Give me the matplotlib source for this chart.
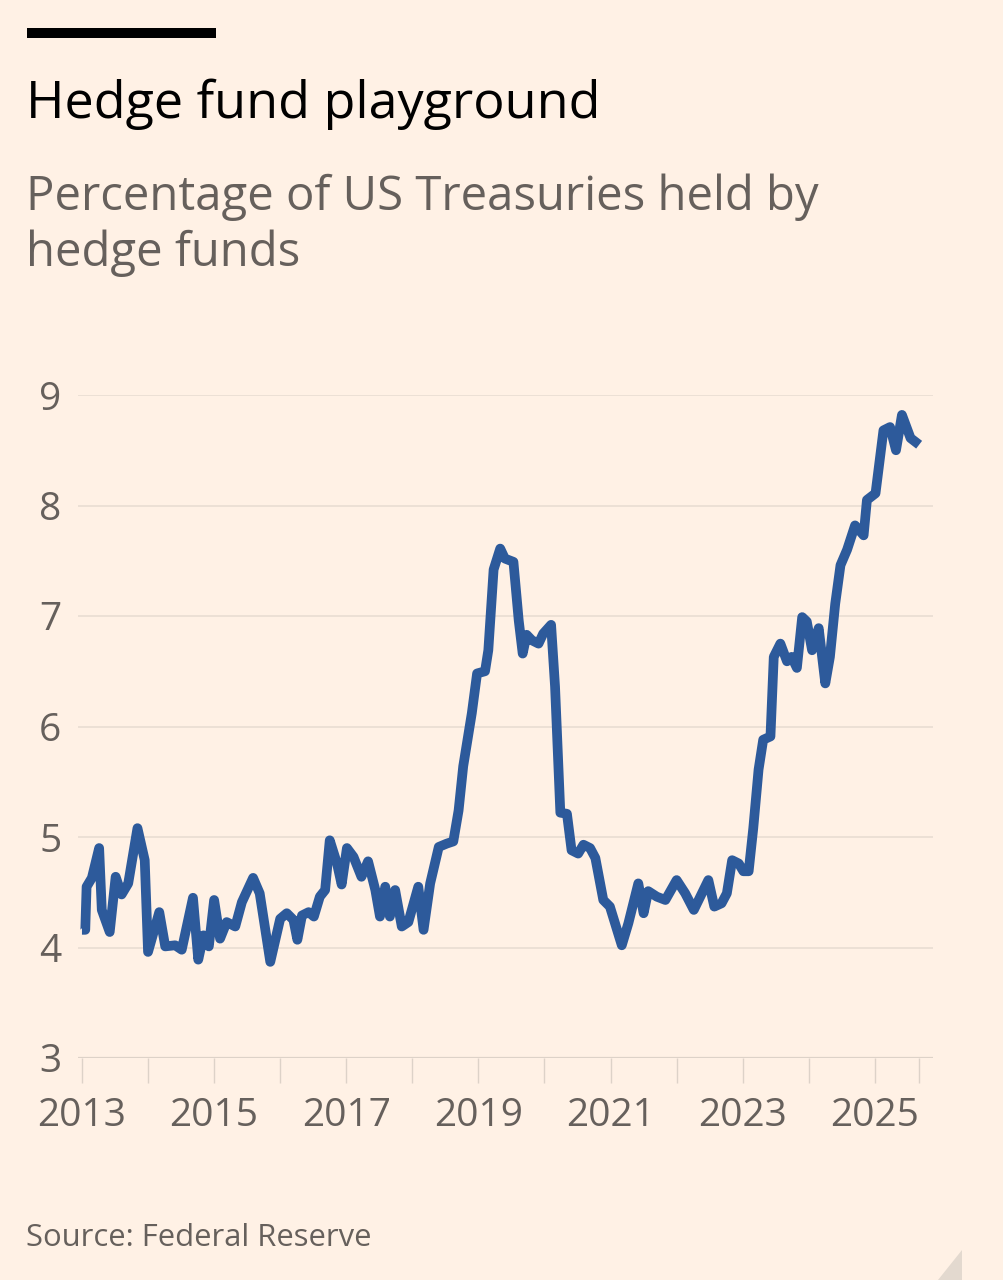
import numpy as np
import matplotlib
matplotlib.use("Agg")
import matplotlib.pyplot as plt
from matplotlib.patches import Rectangle, Polygon

# decimal year, % of US Treasuries held by hedge funds
dates = [2013.00, 2013.05, 2013.07, 2013.15, 2013.26, 2013.30, 2013.42, 2013.51,
         2013.60, 2013.70, 2013.84, 2013.95, 2014.00, 2014.17, 2014.26, 2014.41,
         2014.51, 2014.68, 2014.76, 2014.84, 2014.92, 2015.00, 2015.09, 2015.19,
         2015.32, 2015.42, 2015.59, 2015.69, 2015.85, 2016.00, 2016.10, 2016.20,
         2016.26, 2016.33, 2016.43, 2016.51, 2016.60, 2016.68, 2016.75, 2016.86,
         2016.93, 2017.01, 2017.11, 2017.23, 2017.33, 2017.44, 2017.51, 2017.59,
         2017.66, 2017.74, 2017.84, 2017.94, 2018.09, 2018.17, 2018.27, 2018.40,
         2018.52, 2018.62, 2018.70, 2018.77, 2018.90, 2018.98, 2019.10, 2019.15,
         2019.23, 2019.33, 2019.40, 2019.53, 2019.61, 2019.67, 2019.73, 2019.81,
         2019.91, 2019.98, 2020.10, 2020.16, 2020.24, 2020.34, 2020.41, 2020.51,
         2020.59, 2020.69, 2020.77, 2020.89, 2020.99, 2021.17, 2021.27, 2021.42,
         2021.50, 2021.57, 2021.70, 2021.83, 2022.00, 2022.13, 2022.26, 2022.48,
         2022.57, 2022.68, 2022.76, 2022.84, 2022.94, 2023.01, 2023.09, 2023.16,
         2023.24, 2023.31, 2023.42, 2023.47, 2023.57, 2023.67, 2023.74, 2023.82,
         2023.90, 2023.97, 2024.05, 2024.15, 2024.25, 2024.32, 2024.40, 2024.48,
         2024.58, 2024.70, 2024.83, 2024.88, 2025.01, 2025.13, 2025.23, 2025.32,
         2025.41, 2025.54, 2025.67]
pct = [4.16, 4.16, 4.55, 4.63, 4.90, 4.34, 4.14, 4.64,
       4.48, 4.58, 5.08, 4.79, 3.96, 4.32, 4.01, 4.02,
       3.98, 4.45, 3.89, 4.11, 4.01, 4.43, 4.08, 4.23,
       4.19, 4.41, 4.63, 4.49, 3.87, 4.26, 4.31, 4.25,
       4.07, 4.29, 4.32, 4.28, 4.46, 4.52, 4.97, 4.76,
       4.57, 4.90, 4.82, 4.64, 4.78, 4.52, 4.28, 4.55,
       4.28, 4.52, 4.19, 4.23, 4.55, 4.16, 4.58, 4.91,
       4.94, 4.96, 5.24, 5.64, 6.12, 6.48, 6.50, 6.69,
       7.42, 7.61, 7.52, 7.49, 6.96, 6.66, 6.83, 6.78,
       6.75, 6.84, 6.92, 6.36, 5.22, 5.21, 4.88, 4.85,
       4.93, 4.90, 4.81, 4.43, 4.37, 4.02, 4.22, 4.58,
       4.31, 4.51, 4.46, 4.43, 4.61, 4.49, 4.34, 4.61,
       4.37, 4.40, 4.49, 4.79, 4.76, 4.69, 4.69, 5.08,
       5.61, 5.88, 5.91, 6.63, 6.75, 6.59, 6.63, 6.53,
       6.99, 6.95, 6.69, 6.89, 6.39, 6.63, 7.11, 7.46,
       7.60, 7.82, 7.73, 8.05, 8.11, 8.68, 8.71, 8.50,
       8.82, 8.61, 8.55]

yticks = [3, 4, 5, 6, 7, 8, 9]
label_years = [2013, 2015, 2017, 2019, 2021, 2023, 2025]

BG = "#FFF1E5"
GREY = "#66605C"
GRID = "#E9DDD2"
BLUE = "#2D5A9B"
FONT = ["Open Sans", "DejaVu Sans"]

plt.rcParams["font.family"] = FONT

W, H = 1004, 1280
fig = plt.figure(figsize=(W / 100, H / 100), dpi=100, facecolor=BG)

def px(x, y):
    return x / W, 1 - y / H

# black bar + titles
fig.patches.append(Rectangle(px(27, 38), 189 / W, 10 / H, transform=fig.transFigure,
                             color="black", lw=0))
fig.text(*px(26, 118), "Hedge fund playground", fontsize=37.5, color="black",
         va="baseline", ha="left")
fig.text(*px(26, 210), "Percentage of US Treasuries held by", fontsize=34,
         color=GREY, va="baseline", ha="left")
fig.text(*px(26, 266), "hedge funds", fontsize=34, color=GREY, va="baseline", ha="left")
fig.text(*px(26, 1246), "Source: Federal Reserve", fontsize=22.3, color=GREY,
         va="baseline", ha="left")

# page-curl corner
fig.patches.append(Polygon([px(938, 1280), px(962, 1250), px(962, 1280)],
                           closed=True, transform=fig.transFigure,
                           color="#E3D9CF", lw=0))

l, r = 78, 933
top, bot = 395, 1058
ax = fig.add_axes([l / W, 1 - bot / H, (r - l) / W, (bot - top) / H])
ax.set_facecolor(BG)
ax.plot(dates, pct, color=BLUE, lw=7, solid_joinstyle="round",
        solid_capstyle="butt", clip_on=False, zorder=3)

ax.set_xlim(2012.94, 2025.88)
ax.set_ylim(3, 9)

for v in yticks[1:]:
    ax.axhline(v, color=GRID, lw=1.2, zorder=1)
ax.axhline(3, color="#DDD2C8", lw=1.6, zorder=2)

for s in ax.spines.values():
    s.set_visible(False)

ax.set_yticks(yticks)
ax.set_yticklabels([str(v) for v in yticks])
ax.tick_params(axis="y", length=0, pad=12, labelsize=28, labelcolor=GREY)

ax.set_xticks(label_years)
ax.set_xticklabels([str(y) for y in label_years])
minor = [y for y in range(2014, 2025) if y not in label_years] + [dates[-1]]
ax.set_xticks(minor, minor=True)
ax.tick_params(axis="x", which="both", length=18, width=1, color="#DDD2C8",
               pad=10, labelsize=28, labelcolor=GREY)

fig.savefig("out.png", dpi=100, facecolor=BG)
